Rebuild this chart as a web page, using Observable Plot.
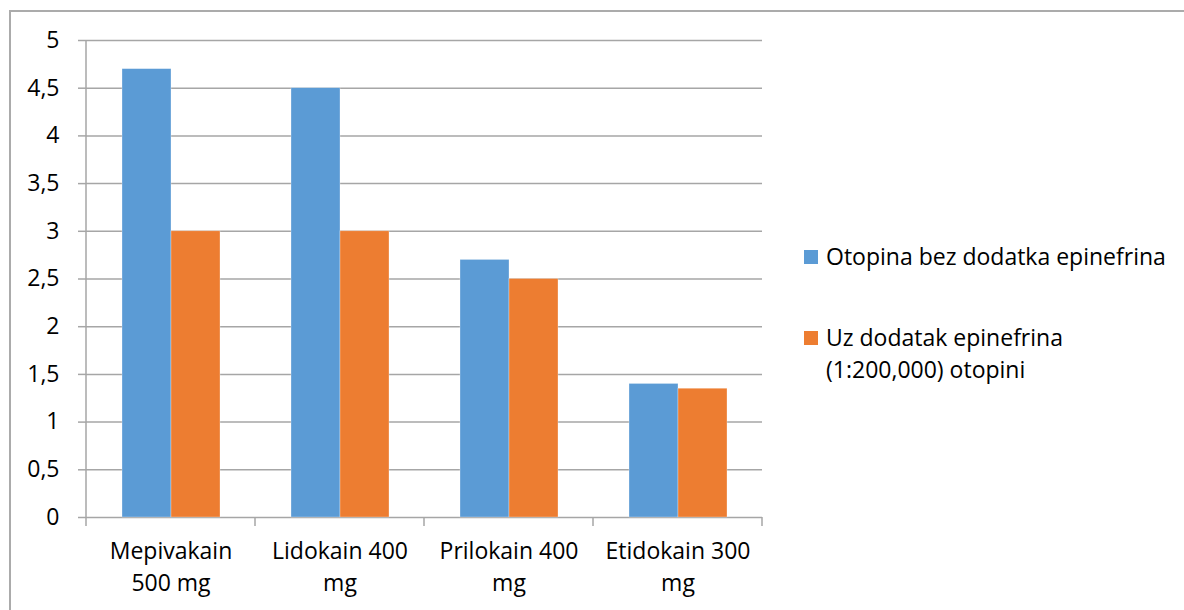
<!DOCTYPE html>
<html>
<head>
<meta charset="utf-8">
<script src="https://cdn.jsdelivr.net/npm/d3@7"></script>
<script src="https://cdn.jsdelivr.net/npm/@observablehq/plot@0.6"></script>
<style>
  html, body { margin: 0; padding: 0; background: #fff; }
  #wrap { position: relative; width: 1184px; height: 610px; overflow: hidden; font-family: "Open Sans", sans-serif; }
  #border { position: absolute; left: 9px; top: 10px; width: 1300px; height: 800px; border: 2px solid #ababab; box-sizing: border-box; }
  #chart { position: absolute; left: 0; top: 0; }
  #legend { position: absolute; left: 804px; top: 240px; font-size: 23px; color: #000; line-height: 32px; white-space: nowrap; }
  .item { display: flex; align-items: flex-start; margin-bottom: 49px; }
  .sw { width: 14px; height: 14px; margin-top: 10px; margin-right: 8px; flex: none; }
</style>
</head>
<body>
<div id="wrap">
  <div id="border"></div>
  <div id="chart"></div>
  <div id="legend"></div>
</div>
<script>
const categories = ["Mepivakain 500 mg", "Lidokain 400 mg", "Prilokain 400 mg", "Etidokain 300 mg"];
const categoryLabels = ["Mepivakain\n500 mg", "Lidokain 400\nmg", "Prilokain 400\nmg", "Etidokain 300\nmg"];
const series = ["Otopina bez dodatka epinefrina", "Uz dodatak epinefrina (1:200,000) otopini"];
const seriesLegend = ["Otopina bez dodatka epinefrina", "Uz dodatak epinefrina<br>(1:200,000) otopini"];
const withoutEpinephrine = [4.7, 4.5, 2.7, 1.4];
const withEpinephrine = [3.0, 3.0, 2.5, 1.35];
const yTicks = [0, 0.5, 1, 1.5, 2, 2.5, 3, 3.5, 4, 4.5, 5];
const colors = ["#5b9bd5", "#ed7d31"];

const data = [];
categories.forEach((c, i) => {
  data.push({category: c, series: series[0], value: withoutEpinephrine[i]});
  data.push({category: c, series: series[1], value: withEpinephrine[i]});
});

const labelOf = new Map(categories.map((c, i) => [c, categoryLabels[i]]));
const grid = "#a6a6a6";

const chart = Plot.plot({
  width: 1184,
  height: 610,
  marginLeft: 85,
  marginRight: 422,
  marginTop: 40,
  marginBottom: 93,
  style: {fontFamily: "Open Sans, sans-serif", fontSize: "23px", color: "#000", background: "transparent"},
  fx: {domain: categories, padding: 0, label: null},
  x: {domain: series, paddingInner: 0, paddingOuter: 0.72, axis: null},
  y: {domain: [0, 5], label: null},
  color: {domain: series, range: colors},
  marks: [
    Plot.gridY(yTicks, {stroke: grid, strokeOpacity: 1, strokeWidth: 1.5}),
    Plot.barY(data, {fx: "category", x: "series", y: "value", fill: "series", stroke: "#fff", strokeOpacity: 0.5, strokeWidth: 0.6}),
    Plot.axisY(yTicks, {tickSize: 8, tickPadding: 19, stroke: grid, strokeWidth: 1.5, fontSize: 23, fill: "#000",
      tickFormat: d => String(d).replace(".", ",")}),
    Plot.axisFx({anchor: "bottom", tickSize: 0, tickPadding: 18, fontSize: 23, fill: "#000", lineHeight: 1.42,
      tickFormat: d => labelOf.get(d), label: null})
  ]
});

document.getElementById("chart").appendChild(chart);

// axis line and category boundary ticks, drawn from the chart's own scales
const fx = chart.scale("fx");
const y = chart.scale("y");
const svg = d3.select(chart);
const bounds = fx.domain.map(d => fx.apply(d));
bounds.push(fx.apply(fx.domain[fx.domain.length - 1]) + fx.bandwidth);
const g = svg.append("g").attr("stroke", grid).attr("stroke-width", 1.5);
g.append("line").attr("x1", bounds[0]).attr("x2", bounds[0]).attr("y1", y.apply(5)).attr("y2", y.apply(0));
bounds.forEach(b => {
  g.append("line").attr("x1", b).attr("x2", b).attr("y1", y.apply(0)).attr("y2", y.apply(0) + 9);
});

// legend
const legend = document.getElementById("legend");
seriesLegend.forEach((s, i) => {
  const it = document.createElement("div");
  it.className = "item";
  it.innerHTML = `<span class="sw" style="background:${colors[i]}"></span><span>${s}</span>`;
  legend.appendChild(it);
});
</script>
</body>
</html>
